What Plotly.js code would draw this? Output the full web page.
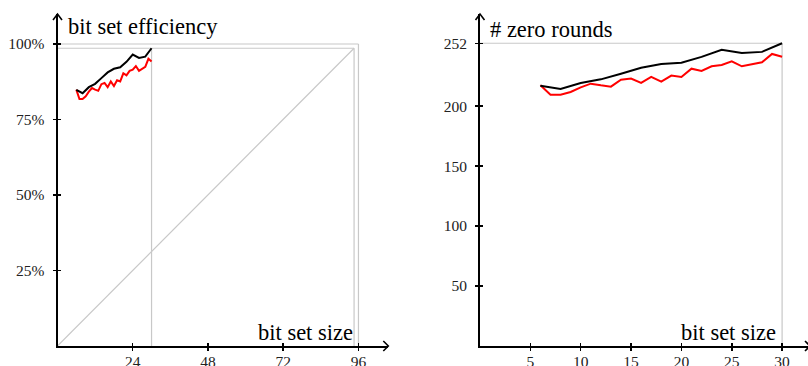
<!DOCTYPE html>
<html><head><meta charset="utf-8">
<script src="https://cdn.plot.ly/plotly-3.0.1.min.js"></script>
<style>html,body{margin:0;padding:0;background:#fff}#c{width:808px;height:366px}</style>
</head><body><div id="c"></div>
<script>
// ---- data ----
const sizes = [6,7,8,9,10,11,12,13,14,15,16,17,18,19,20,21,22,23,24,25,26,27,28,29,30];
const sizesEven = [6,8,10,12,14,16,18,20,22,24,26,28,30];
const effRed = [84.9,81.8,81.8,82.7,84.2,85.4,84.9,84.5,86.7,87.1,85.7,87.6,86.1,88.0,87.6,90.3,89.6,91.1,91.5,92.7,91.1,91.8,92.4,95.1,94.2];
const effBlack = [84.8,83.7,85.7,86.8,88.7,90.6,91.8,92.3,94.1,96.5,95.4,95.8,98.6];
const zeroRed = [217.3,209.5,209.5,211.8,215.6,218.7,217.3,216.2,222.0,222.9,219.3,224.3,220.4,225.4,224.3,231.2,229.3,233.2,234.3,237.3,233.2,235.1,236.5,243.5,241.2];
const zeroBlack = [217.0,214.3,219.3,222.3,227.0,232.0,235.1,236.2,241.0,247.0,244.3,245.2,252.4];
const effTicks = [25,50,75,100];
const effTickText = ['25%','50%','75%','100%'];
const sizeTicksL = [24,48,72,96];
const zeroTicks = [50,100,150,200,252];
const sizeTicksR = [5,10,15,20,25,30];
// guide lines: [x0,y0,x1,y1]
const guidesL = [[0,100,96,100],[96,0,96,100],[0,98.6,94.6,98.6],[94.6,0,94.6,98.6],[30,0,30,98.6],[0,0,94.6,98.6]];
const guidesR = [[0,252.4,30,252.4],[30,0,30,252.4]];

// ---- layout helpers ----
const W=808,H=366;
const px=x=>x/W, py=y=>1-y/H;
const FONT='Liberation Serif';
const GRAY='#c8c8c8';

const traces=[];
function guide(g,xa,ya){
  g.forEach(s=>traces.push({x:[s[0],s[2]],y:[s[1],s[3]],xaxis:xa,yaxis:ya,mode:'lines',
    line:{color:GRAY,width:1.2},hoverinfo:'skip',showlegend:false}));
}
guide(guidesL,'x','y');
guide(guidesR,'x2','y2');
traces.push({x:sizes,y:effRed,xaxis:'x',yaxis:'y',mode:'lines',line:{color:'#ff0000',width:2},showlegend:false});
traces.push({x:sizesEven,y:effBlack,xaxis:'x',yaxis:'y',mode:'lines',line:{color:'#000',width:2},showlegend:false});
traces.push({x:sizes,y:zeroRed,xaxis:'x2',yaxis:'y2',mode:'lines',line:{color:'#ff0000',width:2},showlegend:false});
traces.push({x:sizesEven,y:zeroBlack,xaxis:'x2',yaxis:'y2',mode:'lines',line:{color:'#000',width:2},showlegend:false});

const yDom=[py(346),py(14)];
const xDomL=[px(57.5),px(388.3)];
const xDomR=[px(480),1];
const xRangeL=[0,(388.3-57.5)/3.135];
const yRangeL=[0,(346-14)/3.02];
const xRangeR=[0,(808-480)/10.07];
const yRangeR=[0,(346-14)/1.1995];

function ax(o){return Object.assign({showgrid:false,zeroline:false,showline:true,linecolor:'#000',linewidth:2,
  ticks:'outside',ticklen:3,tickwidth:1.5,tickcolor:'#000',tickfont:{family:FONT,size:15.5,color:'#222'},
  fixedrange:true},o);}
function inner(o){return Object.assign({showgrid:false,zeroline:false,showline:false,ticks:'inside',ticklen:3,
  tickwidth:1.5,tickcolor:'#000',showticklabels:false,fixedrange:true},o);}

const layout={
  width:W,height:H,margin:{l:0,r:0,t:0,b:0},paper_bgcolor:'#fff',plot_bgcolor:'rgba(0,0,0,0)',
  font:{family:FONT,size:15,color:'#000'},
  showlegend:false,
  xaxis:ax({domain:xDomL,range:xRangeL,anchor:'y',tickmode:'array',tickvals:sizeTicksL,ticklabelstandoff:-3}),
  yaxis:ax({domain:yDom,range:yRangeL,anchor:'x',tickmode:'array',tickvals:effTicks,ticktext:effTickText,ticklabelstandoff:5}),
  xaxis2:ax({domain:xDomR,range:xRangeR,anchor:'y2',tickmode:'array',tickvals:sizeTicksR,ticklabelstandoff:-3}),
  yaxis2:ax({domain:yDom,range:yRangeR,anchor:'x2',tickmode:'array',tickvals:zeroTicks,ticklabelstandoff:5}),
  xaxis3:inner({overlaying:'x',domain:xDomL,range:xRangeL,anchor:'y',tickmode:'array',tickvals:sizeTicksL}),
  yaxis3:inner({overlaying:'y',domain:yDom,range:yRangeL,anchor:'x',tickmode:'array',tickvals:effTicks}),
  xaxis4:inner({overlaying:'x2',domain:xDomR,range:xRangeR,anchor:'y2',tickmode:'array',tickvals:sizeTicksR}),
  yaxis4:inner({overlaying:'y2',domain:yDom,range:yRangeR,anchor:'x2',tickmode:'array',tickvals:zeroTicks}),
  annotations:[
    {text:'bit set efficiency',xref:'paper',yref:'paper',x:px(66),y:py(41),xanchor:'left',yanchor:'bottom',showarrow:false,font:{family:FONT,size:22.5,color:'#000'}},
    {text:'# zero rounds',xref:'paper',yref:'paper',x:px(488),y:py(44),xanchor:'left',yanchor:'bottom',showarrow:false,font:{family:FONT,size:22.5,color:'#000'}},
    {text:'bit set size',xref:'paper',yref:'paper',x:px(355),y:py(346.5),xanchor:'right',yanchor:'bottom',showarrow:false,font:{family:FONT,size:22.5,color:'#000'}},
    {text:'bit set size',xref:'paper',yref:'paper',x:px(778),y:py(346.5),xanchor:'right',yanchor:'bottom',showarrow:false,font:{family:FONT,size:22.5,color:'#000'}}
  ],
  shapes:[
    {type:'path',xref:'paper',yref:'paper',path:`M${px(53)},${py(20)} L${px(57.5)},${py(14)} L${px(62)},${py(20)}`,line:{color:'#000',width:1.6}},
    {type:'path',xref:'paper',yref:'paper',path:`M${px(475.5)},${py(20)} L${px(480)},${py(14)} L${px(484.5)},${py(20)}`,line:{color:'#000',width:1.6}},
    {type:'path',xref:'paper',yref:'paper',path:`M${px(383.3)},${py(341)} L${px(388.3)},${py(346)} L${px(383.3)},${py(351)}`,line:{color:'#000',width:1.6}},
    {type:'path',xref:'paper',yref:'paper',path:`M${px(805)},${py(341)} L${px(810)},${py(346)} L${px(805)},${py(351)}`,line:{color:'#000',width:1.6}}
  ]
};
traces.push({x:[null],y:[null],xaxis:'x3',yaxis:'y3',mode:'lines',hoverinfo:'skip'});
traces.push({x:[null],y:[null],xaxis:'x4',yaxis:'y4',mode:'lines',hoverinfo:'skip'});
Plotly.newPlot('c',traces,layout,{staticPlot:true});
</script></body></html>
